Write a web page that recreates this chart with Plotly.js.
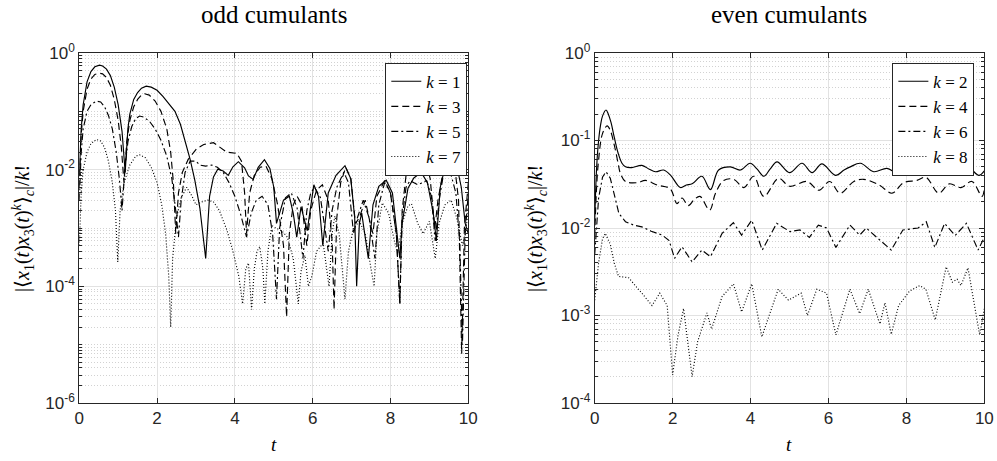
<!DOCTYPE html>
<html>
<head>
<meta charset="utf-8">
<script src="https://cdn.plot.ly/plotly-3.0.1.min.js"></script>
<style>html,body{margin:0;padding:0;background:#fff;}#plot{width:997px;height:461px;}</style>
</head>
<body>
<div id="plot"></div>
<script>
// ---------- odd cumulants (left panel) ----------
const tK1 = [0,0.05,0.1,0.2,0.3,0.4,0.52,0.6,0.7,0.8,0.9,1.0,1.1,1.18,1.25,1.3,1.4,1.5,1.6,1.72,1.85,2.0,2.15,2.3,2.46,2.6,2.72,2.85,2.97,3.1,3.25,3.35,3.45,3.56,3.7,3.83,3.95,4.09,4.25,4.35,4.47,4.6,4.76,4.9,5.0,5.07,5.15,5.25,5.4,5.5,5.59,5.7,5.86,6.03,6.15,6.26,6.4,6.6,6.83,6.98,7.08,7.13,7.2,7.26,7.43,7.55,7.7,7.89,8.05,8.18,8.24,8.3,8.45,8.6,8.79,8.95,9.1,9.18,9.28,9.4,9.56,9.7,9.82,9.92,10];
const yK1 = [0.008,0.05,0.13,0.32,0.48,0.58,0.62,0.6,0.53,0.41,0.26,0.13,0.045,0.009,0.05,0.09,0.16,0.21,0.25,0.27,0.26,0.23,0.18,0.135,0.1,0.06,0.032,0.015,0.0066,0.0022,0.0003,0.0035,0.0075,0.0102,0.0095,0.008,0.0112,0.0137,0.0108,0.0078,0.0068,0.011,0.0148,0.0105,0.005,0.0012,0.0018,0.0030,0.0035,0.0018,0.0007,0.0023,0.0009,0.0055,0.0035,0.0005,0.004,0.008,0.0117,0.007,0.0015,0.0001,0.0012,0.0018,0.0003,0.0025,0.0052,0.0066,0.004,0.0008,0.0003,0.0012,0.0048,0.0072,0.009,0.006,0.0018,0.0006,0.005,0.011,0.016,0.012,0.005,0.0012,0.0008];

const tK3 = [0,0.05,0.1,0.2,0.3,0.4,0.52,0.6,0.7,0.8,0.9,1.0,1.08,1.15,1.22,1.3,1.4,1.5,1.6,1.68,1.8,1.95,2.1,2.25,2.35,2.42,2.48,2.55,2.65,2.8,3.02,3.2,3.45,3.6,3.79,4.05,4.17,4.25,4.3,4.38,4.5,4.65,4.8,4.95,5.1,5.25,5.33,5.4,5.5,5.6,5.72,5.85,5.95,6.1,6.25,6.4,6.5,6.55,6.62,6.72,6.85,6.98,7.1,7.2,7.35,7.48,7.55,7.65,7.85,8.0,8.15,8.24,8.3,8.4,8.49,8.6,8.7,8.8,8.92,9.02,9.14,9.22,9.35,9.45,9.56,9.66,9.75,9.83,9.9,10];
const yK3 = [0.005,0.04,0.1,0.24,0.36,0.43,0.45,0.44,0.38,0.28,0.16,0.07,0.025,0.006,0.03,0.07,0.12,0.16,0.19,0.2,0.19,0.15,0.1,0.05,0.02,0.006,0.0008,0.004,0.009,0.015,0.023,0.027,0.029,0.025,0.02,0.019,0.014,0.004,0.0008,0.004,0.008,0.011,0.0115,0.007,0.0025,0.0005,0.00003,0.0008,0.0025,0.0035,0.0025,0.0005,0.002,0.0045,0.0055,0.003,0.0006,0.00004,0.0015,0.006,0.011,0.007,0.0012,0.0015,0.003,0.0012,0.0008,0.0035,0.0065,0.004,0.0008,0.00005,0.002,0.008,0.012,0.0095,0.0085,0.011,0.013,0.007,0.001,0.003,0.009,0.013,0.014,0.01,0.003,0.000007,0.001,0.006];

const tK5 = [0,0.05,0.1,0.2,0.3,0.44,0.55,0.65,0.75,0.85,0.95,1.03,1.1,1.17,1.25,1.35,1.45,1.55,1.65,1.8,1.95,2.1,2.25,2.38,2.48,2.55,2.62,2.72,2.85,3.0,3.1,3.25,3.4,3.55,3.7,3.85,4.0,4.15,4.3,4.42,4.55,4.7,4.85,4.97,5.07,5.15,5.3,5.45,5.6,5.75,5.85,5.95,6.05,6.2,6.4,6.5,6.62,6.8,6.92,7.05,7.15,7.3,7.45,7.6,7.7,7.85,8.0,8.15,8.24,8.3,8.4,8.5,8.7,8.93,9.05,9.15,9.25,9.35,9.44,9.55,9.68,9.78,9.85,9.92,10];
const yK5 = [0.003,0.02,0.05,0.1,0.13,0.15,0.145,0.12,0.085,0.05,0.02,0.007,0.002,0.01,0.03,0.055,0.075,0.083,0.08,0.068,0.05,0.032,0.017,0.007,0.002,0.0007,0.003,0.009,0.014,0.014,0.012,0.0115,0.012,0.011,0.009,0.006,0.0035,0.0017,0.0007,0.0018,0.003,0.0035,0.0025,0.0008,0.00006,0.001,0.0033,0.004,0.0022,0.0003,0.002,0.004,0.005,0.0033,0.0004,0.002,0.005,0.009,0.006,0.0008,0.0015,0.003,0.0015,0.0003,0.0025,0.006,0.004,0.0008,0.00005,0.0015,0.005,0.0065,0.0055,0.0065,0.0035,0.0006,0.003,0.0075,0.0092,0.0085,0.004,0.0006,0.00001,0.0008,0.004];

const tK7 = [0,0.05,0.1,0.2,0.3,0.44,0.55,0.65,0.75,0.85,0.93,0.99,1.05,1.15,1.3,1.45,1.55,1.7,1.85,2.0,2.12,2.22,2.3,2.35,2.4,2.5,2.62,2.76,2.9,3.0,3.15,3.3,3.45,3.6,3.8,3.95,4.1,4.2,4.28,4.35,4.43,4.5,4.57,4.64,4.72,4.77,4.85,4.95,5.05,5.2,5.35,5.5,5.63,5.7,5.8,5.89,5.98,6.1,6.27,6.36,6.42,6.5,6.57,6.68,6.83,6.92,7.05,7.2,7.35,7.5,7.58,7.65,7.79,7.95,8.1,8.19,8.3,8.45,8.54,8.7,8.84,9.0,9.15,9.25,9.4,9.56,9.7,9.85,9.92,10];
const yK7 = [0.0005,0.004,0.01,0.02,0.028,0.033,0.031,0.024,0.014,0.006,0.002,0.00026,0.002,0.006,0.012,0.017,0.018,0.016,0.011,0.006,0.0025,0.0008,0.00015,0.00002,0.0003,0.0015,0.0033,0.005,0.0035,0.0025,0.0028,0.003,0.0028,0.002,0.0009,0.0004,0.00015,0.00005,0.0002,0.00025,0.00004,0.0002,0.0004,0.00048,0.0002,0.00005,0.0004,0.0011,0.001,0.0009,0.0007,0.0003,0.00005,0.00018,0.00034,0.0001,0.00015,0.0004,0.00055,0.0002,0.0001,0.0008,0.0016,0.0008,0.00006,0.0004,0.001,0.0013,0.0008,0.0002,0.0001,0.0008,0.0027,0.0018,0.0006,0.00037,0.0012,0.0024,0.0026,0.0012,0.0008,0.0013,0.0003,0.0012,0.0025,0.003,0.0015,0.0005,0.0008,0.002];

// ---------- even cumulants (right panel) ----------
const tK2 = [0,0.05,0.1,0.15,0.2,0.29,0.35,0.42,0.5,0.6,0.7,0.79,0.95,1.21,1.4,1.56,1.77,1.95,2.2,2.35,2.5,2.75,2.97,3.18,3.48,3.74,3.99,4.17,4.34,4.5,4.68,5.0,5.32,5.58,5.83,6.18,6.4,6.56,6.82,7.16,7.5,7.8,8.1,8.44,8.7,9.0,9.34,9.6,9.86,10];
const yK2 = [0.012,0.05,0.1,0.15,0.19,0.223,0.2,0.16,0.11,0.072,0.055,0.05,0.049,0.052,0.047,0.044,0.046,0.04,0.029,0.031,0.032,0.039,0.0275,0.046,0.05,0.046,0.055,0.047,0.039,0.047,0.057,0.043,0.055,0.043,0.054,0.04,0.046,0.05,0.055,0.044,0.048,0.042,0.054,0.055,0.042,0.047,0.048,0.049,0.04,0.045];

const tK4 = [0,0.05,0.1,0.2,0.32,0.4,0.5,0.6,0.66,0.79,1.1,1.3,1.6,1.94,2.11,2.24,2.4,2.55,2.7,2.95,3.1,3.31,3.57,3.83,4.08,4.34,4.72,5.0,5.45,5.75,6.03,6.3,6.65,6.9,7.3,7.63,7.93,8.27,8.5,8.83,9.1,9.4,9.68,9.94,10];
const yK4 = [0.008,0.03,0.06,0.12,0.147,0.13,0.09,0.055,0.042,0.034,0.033,0.035,0.031,0.028,0.019,0.022,0.018,0.021,0.023,0.016,0.025,0.035,0.036,0.029,0.039,0.023,0.037,0.03,0.034,0.027,0.034,0.025,0.034,0.036,0.031,0.025,0.033,0.035,0.038,0.025,0.032,0.029,0.034,0.023,0.028];

const tK6 = [0,0.05,0.1,0.2,0.29,0.4,0.5,0.62,0.79,1.0,1.21,1.45,1.73,1.91,2.05,2.24,2.5,2.75,2.97,3.27,3.56,3.77,4.03,4.3,4.67,5.01,5.27,5.51,5.74,5.95,6.19,6.55,6.8,6.97,7.27,7.61,7.91,8.3,8.51,8.73,8.98,9.25,9.54,9.84,10];
const yK6 = [0.005,0.012,0.022,0.038,0.044,0.037,0.024,0.0147,0.0118,0.0108,0.0103,0.0092,0.0083,0.0072,0.0045,0.0061,0.0041,0.0056,0.0047,0.0087,0.0115,0.0083,0.0123,0.0056,0.0113,0.0091,0.0095,0.0078,0.0108,0.01,0.006,0.0108,0.0083,0.01,0.0076,0.0056,0.0095,0.01,0.0118,0.006,0.0113,0.0082,0.0113,0.0056,0.0078];

const tK8 = [0,0.1,0.2,0.27,0.4,0.5,0.61,0.87,1.21,1.47,1.67,1.86,2.0,2.14,2.28,2.5,2.64,2.88,3.0,3.27,3.56,3.77,4.03,4.29,4.71,4.97,5.3,5.46,5.7,5.95,6.19,6.55,6.8,7.02,7.32,7.45,7.61,7.8,8.08,8.34,8.5,8.74,9.02,9.18,9.3,9.4,9.58,9.88,10];
const yK8 = [0.0015,0.004,0.0075,0.0087,0.0065,0.004,0.0028,0.0027,0.0018,0.0013,0.0018,0.0013,0.00021,0.0006,0.0012,0.0002,0.0005,0.00107,0.0007,0.00165,0.0023,0.0011,0.0023,0.00057,0.002,0.0015,0.0018,0.001,0.002,0.0018,0.0006,0.002,0.00105,0.002,0.0008,0.0014,0.00061,0.0013,0.0019,0.0022,0.002,0.00089,0.0036,0.0024,0.0026,0.0022,0.0035,0.0006,0.0012];

const oddNames = ['1','3','5','7'];
const evenNames = ['2','4','6','8'];
const xTicks = [0,2,4,6,8,10];
const yTicksOdd = [1e-6,1e-4,1e-2,1];
const yTickTextOdd = ['10<sup>-6</sup>','10<sup>-4</sup>','10<sup>-2</sup>','10<sup>0</sup>'];
const yTicksEven = [1e-4,1e-3,1e-2,1e-1,1];
const yTickTextEven = ['10<sup>-4</sup>','10<sup>-3</sup>','10<sup>-2</sup>','10<sup>-1</sup>','10<sup>0</sup>'];

// ---------- styling ----------
const dashes = ['solid','7px,4px','7px,3px,2px,3px','1px,2px'];
const LW = 1.15;
const axisCol = '#262626';
const serif = '"Liberation Serif", "Times New Roman", serif';
const sans = '"Liberation Sans", Arial, Helvetica, sans-serif';

function minorVals(lo, hi, skip) {
  const v = [];
  for (let e = lo; e < hi; e++) {
    for (let m = 1; m <= 9; m++) {
      if (m === 1 && skip.indexOf(e) >= 0) continue;
      v.push(m * Math.pow(10, e));
    }
  }
  return v;
}

const oddT = [tK1,tK3,tK5,tK7], oddY = [yK1,yK3,yK5,yK7];
const evenT = [tK2,tK4,tK6,tK8], evenY = [yK2,yK4,yK6,yK8];
const traces = [];
for (let i = 0; i < 4; i++) {
  traces.push({x: oddT[i], y: oddY[i], type:'scatter', mode:'lines', xaxis:'x', yaxis:'y',
    name:'<i>k</i> = ' + oddNames[i], legend:'legend',
    line:{color:'#000', width:LW, dash:dashes[i]}});
}
for (let i = 0; i < 4; i++) {
  const smooth = i < 2;
  traces.push({x: evenT[i], y: evenY[i], type:'scatter', mode:'lines', xaxis:'x2', yaxis:'y2',
    name:'<i>k</i> = ' + evenNames[i], legend:'legend2',
    line:{color:'#000', width:LW, dash:dashes[i], shape: smooth ? 'spline' : 'linear', smoothing: 1}});
}

function xAxis(domain, anchor) {
  return {domain: domain, anchor: anchor, range:[0,10], tickmode:'array', tickvals:xTicks,
    ticks:'inside', ticklen:5, tickcolor:axisCol, showline:true, linecolor:axisCol, linewidth:1,
    mirror:'ticks', showgrid:true, gridcolor:'#e2e2e2', gridwidth:1, zeroline:false,
    tickfont:{family:sans, size:17, color:axisCol}, fixedrange:true};
}
function yAxis(domain, anchor, rng, tv, tt, minor) {
  return {domain: domain, anchor: anchor, type:'log', range:rng, tickmode:'array', tickvals:tv, ticktext:tt,
    ticks:'inside', ticklen:5, tickcolor:axisCol, showline:true, linecolor:axisCol, linewidth:1,
    mirror:'ticks', showgrid:true, gridcolor:'#e2e2e2', gridwidth:1, zeroline:false,
    tickfont:{family:sans, size:17, color:axisCol}, fixedrange:true,
    minor:{tickmode:'array', tickvals:minor, ticks:'inside', ticklen:3, tickcolor:axisCol,
      showgrid:true, gridcolor:'#d2d2d2', gridwidth:1, griddash:'1px,2px'}};
}

const yDom = [0.1258, 0.885];
const ylab = '|⟨<i>x</i><sub>1</sub>(<i>t</i>)<i>x</i><sub>3</sub>(<i>t</i>)<sup><i>k</i></sup>⟩<sub><i>c</i></sub>|/<i>k</i>!';
const layout = {
  width:997, height:461, margin:{l:0,r:0,t:0,b:0}, paper_bgcolor:'#fff', plot_bgcolor:'#fff',
  showlegend:true, hovermode:false,
  xaxis: xAxis([0.0795,0.4697],'y'),
  yaxis: yAxis(yDom,'x',[-6,0],yTicksOdd,yTickTextOdd,minorVals(-6,0,[-4,-2])),
  xaxis2: xAxis([0.5965,0.9873],'y2'),
  yaxis2: yAxis(yDom,'x2',[-4,0],yTicksEven,yTickTextEven,minorVals(-4,0,[-4,-3,-2,-1])),
  legend:{x:0.4687, y:0.864, xanchor:'right', yanchor:'top', bgcolor:'#fff', bordercolor:axisCol, borderwidth:1,
    font:{family:serif, size:17, color:'#000'}, tracegroupgap:0, itemwidth:30},
  legend2:{x:0.9773, y:0.864, xanchor:'right', yanchor:'top', bgcolor:'#fff', bordercolor:axisCol, borderwidth:1,
    font:{family:serif, size:17, color:'#000'}, tracegroupgap:0, itemwidth:30},
  annotations:[
    {text:'odd cumulants', xref:'paper', yref:'paper', x:274/997, y:1-14/461, xanchor:'center', yanchor:'middle',
      showarrow:false, font:{family:serif, size:25, color:'#000'}},
    {text:'even cumulants', xref:'paper', yref:'paper', x:789/997, y:1-14/461, xanchor:'center', yanchor:'middle',
      showarrow:false, font:{family:serif, size:25, color:'#000'}},
    {text:'<i>t</i>', xref:'paper', yref:'paper', x:274/997, y:1-444/461, xanchor:'center', yanchor:'middle',
      showarrow:false, font:{family:serif, size:19, color:'#000'}},
    {text:'<i>t</i>', xref:'paper', yref:'paper', x:789/997, y:1-444/461, xanchor:'center', yanchor:'middle',
      showarrow:false, font:{family:serif, size:19, color:'#000'}},
    {text:ylab, xref:'paper', yref:'paper', x:23/997, y:1-229/461, xanchor:'center', yanchor:'middle',
      textangle:-90, showarrow:false, font:{family:serif, size:20, color:'#000'}},
    {text:ylab, xref:'paper', yref:'paper', x:536/997, y:1-229/461, xanchor:'center', yanchor:'middle',
      textangle:-90, showarrow:false, font:{family:serif, size:20, color:'#000'}}
  ]
};
Plotly.newPlot('plot', traces, layout, {staticPlot:true, displayModeBar:false});
</script>
</body>
</html>
